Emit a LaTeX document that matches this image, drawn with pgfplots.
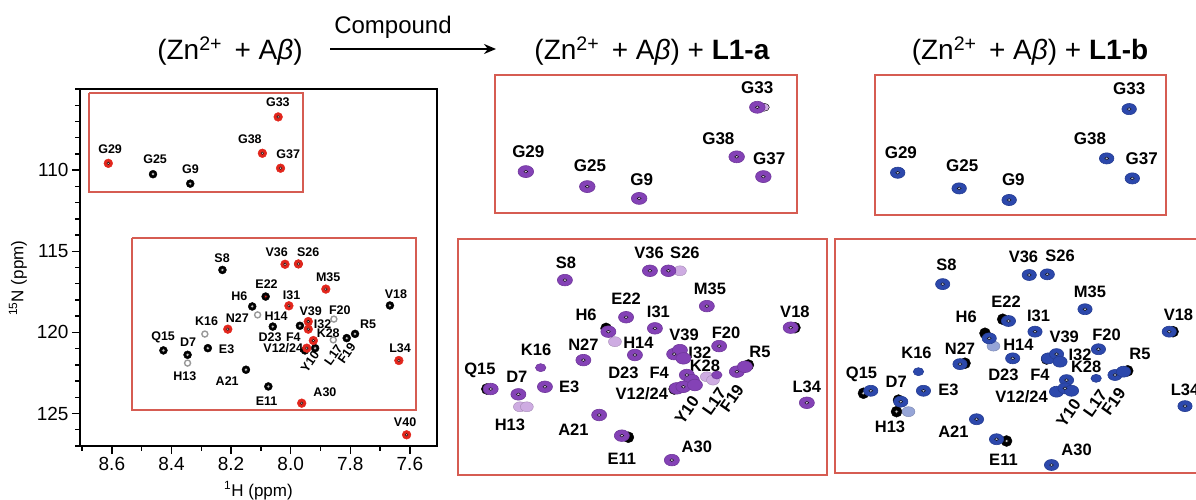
\documentclass[border=0pt]{standalone}
\usepackage{fontspec}
\setmainfont{Liberation Sans}
\usepackage{pgfplots}
\pgfplotsset{compat=1.18}
\usetikzlibrary{arrows.meta}
\definecolor{boxred}{RGB}{214,92,82}
\definecolor{pkred}{RGB}{226,38,28}
\definecolor{pur}{RGB}{132,66,182}
\definecolor{lpur}{RGB}{206,172,226}
\definecolor{blu}{RGB}{44,72,172}
\definecolor{lblu}{RGB}{150,165,215}
\newcommand{\lab}[3]{\node[font=\labfont] at (axis cs:#1,#2) {#3};}
\newcommand{\rlab}[3]{\node[font=\labfont,rotate=55] at (axis cs:#1,#2) {#3};}
\pgfplotsset{
  blk/.style={only marks, mark=*, mark size=#1, mark options={draw=black, fill=black}},
  blk/.default=4,
  ctr/.style={only marks, mark=*, mark size=#1, mark options={draw=none, fill=gray!45}},
  ctr/.default=1.8,
  redpk/.style={only marks, mark=*, mark size=4.4, mark options={draw=pkred, fill=pkred}},
  wdot/.style={only marks, mark=*, mark size=1.3, mark options={draw=none, fill=white!75!pkred}},
  gry/.style={only marks, mark=*, mark size=3, mark options={draw=gray!80, fill=white, line width=1.4pt}},
  ell/.style 2 args={only marks, mark=*, mark size=#2, mark options={draw=#1!85!black, fill=#1, xscale=1.3, line width=0.6pt}},
  edot/.style={only marks, mark=*, mark size=1.4, mark options={draw=none, fill=white!65!#1, xscale=1.4}},
  panel/.style={anchor=south west, scale only axis, x dir=reverse, y dir=reverse,
    xtick=\empty, ytick=\empty, clip=false,
    axis line style={draw=boxred, line width=1.6pt}},
}
\begin{document}
\begin{tikzpicture}[x=1pt,y=1pt]
\useasboundingbox (0pt,0pt) rectangle (1196pt,499pt);

% ---------------- left spectrum ----------------
\def\labfont{\fontsize{12.5}{13}\selectfont\bfseries}
\begin{axis}[
  at={(80pt,53pt)}, anchor=south west, width=357pt, height=357pt, scale only axis,
  xmin=7.509, xmax=8.707, x dir=reverse,
  ymin=105, ymax=127, y dir=reverse,
  xtick={7.6,7.8,8.0,8.2,8.4,8.6},
  minor xtick={7.5,7.7,7.9,8.1,8.3,8.5,8.7},
  ytick={110,115,120,125},
  minor ytick={105,106,107,108,109,111,112,113,114,116,117,118,119,121,122,123,124,126,127},
  tick pos=left, tick align=outside,
  major tick length=8pt, minor tick length=4.5pt,
  every tick/.style={black, line width=1.4pt},
  axis line style={line width=2pt},
  /pgf/number format/assume math mode=true,
  x tick label style={/pgf/number format/.cd, fixed, fixed zerofill, precision=1},
  tick label style={font=\fontsize{19}{19}\selectfont},
  xlabel={\textsuperscript{1}H (ppm)},
  ylabel={\textsuperscript{15}N (ppm)},
  label style={font=\fontsize{17}{17}\selectfont},
  xlabel style={at={(axis description cs:0.5,-0.125)}, anchor=center},
  ylabel style={at={(axis description cs:-0.174,0.47)}, anchor=center},
  clip=false,
]
% red boxes
\addplot[boxred, line width=1.5pt] coordinates {(8.677,105.25) (7.959,105.25) (7.959,111.34) (8.677,111.34) (8.677,105.25)};
\addplot[boxred, line width=1.5pt] coordinates {(8.532,114.17) (7.579,114.17) (7.579,124.77) (8.532,124.77) (8.532,114.17)};
% reference (black) peaks
\addplot[blk] table {
8.462 110.25
8.337 110.83
8.229 116.15
7.974 115.78
8.084 117.79
8.129 118.40
7.667 118.34
8.060 119.64
7.969 119.59
7.812 120.35
7.784 120.09
8.075 123.33
8.150 122.30
8.427 121.11
8.346 121.38
8.278 120.97
7.952 121.11
7.918 120.97
};
\addplot[ctr] table {
8.462 110.25
8.337 110.83
8.229 116.15
8.084 117.79
8.129 118.40
7.667 118.34
8.060 119.64
7.969 119.59
7.812 120.35
7.784 120.09
8.075 123.33
8.150 122.30
8.427 121.11
8.346 121.38
8.278 120.97
7.952 121.11
7.918 120.97
};
\addplot[gry] table {
8.111 118.92
7.855 119.18
7.857 120.46
8.346 121.89
8.288 120.10
};
% shifted (red) peaks
\addplot[redpk] table {
8.042 106.72
8.095 108.96
8.034 109.88
8.612 109.58
8.019 115.80
7.974 115.78
7.882 117.33
8.006 118.36
8.211 119.80
7.941 119.33
7.941 119.80
7.924 120.50
7.946 120.97
7.637 121.73
7.963 124.36
7.611 126.31
};
\addplot[wdot] table {
8.042 106.72
8.095 108.96
8.034 109.88
8.612 109.58
8.019 115.80
7.974 115.78
7.882 117.33
8.006 118.36
8.211 119.80
7.941 119.33
7.941 119.80
7.924 120.50
7.946 120.97
7.637 121.73
7.963 124.36
7.611 126.31
};
\addplot[only marks, mark=*, mark size=1.6, mark options={draw=none, fill=pkred}] coordinates {(8.084,117.79)};
\lab{8.043}{105.84}{G33}
\lab{8.137}{108.10}{G38}
\lab{8.008}{109.02}{G37}
\lab{8.606}{108.71}{G29}
\lab{8.455}{109.33}{G25}
\lab{8.336}{109.94}{G9}
\lab{8.230}{115.43}{S8}
\lab{8.047}{115.08}{V36}
\lab{7.941}{115.04}{S26}
\lab{7.874}{116.62}{M35}
\lab{8.081}{117.03}{E22}
\lab{8.172}{117.79}{H6}
\lab{7.997}{117.68}{I31}
\lab{7.647}{117.62}{V18}
\lab{8.049}{118.98}{H14}
\lab{7.933}{118.67}{V39}
\lab{7.835}{118.61}{F20}
\lab{7.893}{119.47}{I32}
\lab{7.874}{120.04}{K28}
\lab{7.740}{119.49}{R5}
\lab{8.179}{119.12}{N27}
\lab{8.282}{119.33}{K16}
\lab{8.428}{120.31}{Q15}
\lab{8.344}{120.62}{D7}
\lab{8.069}{120.29}{D23}
\lab{7.991}{120.29}{F4}
\lab{8.215}{121.03}{E3}
\lab{8.025}{120.97}{V12/24}
\lab{7.633}{120.97}{L34}
\lab{8.355}{122.72}{H13}
\lab{8.213}{123.02}{A21}
\lab{7.885}{123.68}{A30}
\lab{8.081}{124.25}{E11}
\lab{7.616}{125.55}{V40}
\rlab{7.935}{121.79}{Y10}
\rlab{7.857}{121.38}{L17}
\rlab{7.812}{121.27}{F19}
\end{axis}

% ---------------- L1-a, glycine region ----------------
\def\labfont{\fontsize{17}{17}\selectfont\bfseries}
\begin{axis}[panel, at={(495pt,286pt)}, width=302pt, height=138pt,
  xmin=7.9552, xmax=8.68, ymin=105.25, ymax=111.322]
\addplot[only marks, mark=*, mark size=4, mark options={draw=none, fill=lpur, xscale=1.3}] coordinates {(8.034,106.67)};
\addplot[ell={pur}{6}] table {
8.0505 106.67
8.100 108.85
8.036 109.72
8.606 109.50
8.4585 110.16
8.334 110.68
};
\addplot[edot=pur] table {
8.0505 106.67
8.100 108.85
8.036 109.72
8.606 109.50
8.4585 110.16
8.334 110.68
};
\lab{8.0505}{105.79}{G33}
\lab{8.144}{108.04}{G38}
\lab{8.022}{108.92}{G37}
\lab{8.600}{108.62}{G29}
\lab{8.452}{109.25}{G25}
\lab{8.328}{109.84}{G9}
\end{axis}

% ---------------- L1-b, glycine region ----------------
\begin{axis}[panel, at={(875pt,284pt)}, width=291pt, height=140pt,
  xmin=7.9816, xmax=8.68, ymin=105.25, ymax=111.41]
\addplot[ell={blu}{5.6}] table {
8.070 106.75
8.124 108.92
8.0625 109.80
8.6255 109.55
8.478 110.24
8.358 110.75
};
\addplot[edot=blu] table {
8.070 106.75
8.124 108.92
8.0625 109.80
8.6255 109.55
8.478 110.24
8.358 110.75
};
\lab{8.070}{105.84}{G33}
\lab{8.164}{108.04}{G38}
\lab{8.040}{108.95}{G37}
\lab{8.618}{108.65}{G29}
\lab{8.4705}{109.25}{G25}
\lab{8.348}{109.87}{G9}
\end{axis}

% ---------------- L1-a, main region ----------------
\def\labfont{\fontsize{16.5}{17}\selectfont\bfseries}
\begin{axis}[panel, at={(458pt,24pt)}, width=369pt, height=236pt,
  xmin=7.5706, xmax=8.53, ymin=114.2, ymax=124.82]
\addplot[blk=5.5] table {
8.145 118.22
7.654 118.19
8.455 120.95
7.775 119.87
8.087 123.12
7.968 120.95
};
\addplot[only marks, mark=*, mark size=5, mark options={draw=lpur!80!black, fill=lpur, xscale=1.3}] table {
7.953 115.63
8.122 118.82
8.369 121.75
8.351 121.75
7.883 120.40
7.867 120.55
};
\addplot[ell={pur}{5.8}] table {
8.252 116.05
8.031 115.63
7.983 115.63
7.883 117.22
8.093 117.72
8.018 118.22
8.139 118.37
7.665 118.19
7.851 119.02
8.070 119.42
7.968 119.38
7.953 119.20
7.944 119.57
8.204 119.65
8.445 120.95
8.304 120.85
8.373 121.19
7.805 120.17
7.784 119.95
7.935 120.32
7.922 120.55
7.961 120.92
7.944 120.85
7.914 120.77
7.623 121.57
8.163 122.12
8.104 123.05
7.974 124.15
};
\addplot[ell={pur}{4}] table {
8.315 119.99
7.857 120.32
};
\addplot[edot=pur] table {
8.252 116.05
8.031 115.63
7.983 115.63
7.883 117.22
8.093 117.72
8.018 118.22
8.139 118.37
7.665 118.19
7.851 119.02
8.070 119.42
7.968 119.38
8.204 119.65
8.445 120.95
8.304 120.85
8.373 121.19
7.805 120.17
7.935 120.32
7.944 120.85
7.623 121.57
8.163 122.12
8.104 123.05
7.974 124.15
};
\lab{8.249}{115.29}{S8}
\lab{8.033}{114.84}{V36}
\lab{7.940}{114.84}{S26}
\lab{7.875}{116.46}{M35}
\lab{8.093}{116.90}{E22}
\lab{8.009}{117.47}{I31}
\lab{8.197}{117.62}{H6}
\lab{7.654}{117.47}{V18}
\lab{7.833}{118.42}{F20}
\lab{7.942}{118.52}{V39}
\lab{8.061}{118.87}{H14}
\lab{8.204}{118.97}{N27}
\lab{7.901}{119.34}{I32}
\lab{7.745}{119.27}{R5}
\lab{8.327}{119.20}{K16}
\lab{7.888}{119.92}{K28}
\lab{8.473}{120.10}{Q15}
\lab{8.377}{120.40}{D7}
\lab{8.100}{120.24}{D23}
\lab{8.007}{120.24}{F4}
\lab{8.241}{120.87}{E3}
\lab{8.052}{121.18}{V12/24}
\lab{7.623}{120.85}{L34}
\lab{8.395}{122.57}{H13}
\lab{8.230}{122.80}{A21}
\lab{7.909}{123.57}{A30}
\lab{8.104}{124.07}{E11}
\rlab{7.935}{121.90}{Y10}
\rlab{7.864}{121.52}{L17}
\rlab{7.818}{121.37}{F19}
\end{axis}

% ---------------- L1-b, main region ----------------
\begin{axis}[panel, at={(835pt,26pt)}, width=369pt, height=234pt,
  xmin=7.5706, xmax=8.53, ymin=114.2, ymax=124.73]
\addplot[blk=5.5] table {
8.094 117.81
8.140 118.44
7.651 118.37
8.192 119.79
8.456 121.14
8.365 121.45
8.370 121.97
7.769 120.13
8.084 123.29
7.980 119.60
};
\addplot[only marks, mark=*, mark size=1.8, mark options={draw=none, fill=gray!40}] coordinates {(8.370,121.97) (8.456,121.14) (8.084,123.29)};
\addplot[only marks, mark=*, mark size=5, mark options={draw=lblu!80!black, fill=lblu, xscale=1.3}] table {
8.118 119.02
8.339 121.97
};
\addplot[ell={blu}{5.5}] table {
8.250 116.23
8.025 115.82
7.978 115.79
7.880 117.36
8.079 117.89
8.010 118.37
8.129 118.67
7.661 118.37
7.845 119.16
8.068 119.57
7.975 119.57
7.954 119.38
7.945 119.72
8.205 119.83
8.437 121.03
8.300 121.03
8.359 121.52
7.802 120.32
7.780 120.17
7.928 120.55
7.954 121.07
7.932 120.92
7.915 121.03
7.620 121.72
8.162 122.31
8.110 123.21
7.967 124.37
};
\addplot[ell={blu}{4}] table {
8.313 120.17
7.851 120.47
};
\addplot[edot=blu] table {
8.250 116.23
8.025 115.82
7.978 115.79
7.880 117.36
8.079 117.89
8.010 118.37
8.129 118.67
7.661 118.37
7.845 119.16
8.068 119.57
7.954 119.38
8.205 119.83
8.437 121.03
8.300 121.03
8.359 121.52
7.802 120.32
7.928 120.55
7.932 120.92
7.620 121.72
8.162 122.31
8.110 123.21
7.967 124.37
};
\lab{8.240}{115.37}{S8}
\lab{8.040}{115.00}{V36}
\lab{7.945}{114.97}{S26}
\lab{7.867}{116.57}{M35}
\lab{8.085}{117.02}{E22}
\lab{8.001}{117.67}{I31}
\lab{8.189}{117.72}{H6}
\lab{7.637}{117.62}{V18}
\lab{7.824}{118.52}{F20}
\lab{7.934}{118.60}{V39}
\lab{8.053}{118.97}{H14}
\lab{8.205}{119.12}{N27}
\lab{7.893}{119.42}{I32}
\lab{7.737}{119.38}{R5}
\lab{8.318}{119.34}{K16}
\lab{7.877}{119.97}{K28}
\lab{8.461}{120.28}{Q15}
\lab{8.371}{120.62}{D7}
\lab{8.092}{120.32}{D23}
\lab{7.997}{120.32}{F4}
\lab{8.235}{121.00}{E3}
\lab{8.045}{121.30}{V12/24}
\lab{7.620}{121.00}{L34}
\lab{8.387}{122.65}{H13}
\lab{8.222}{122.87}{A21}
\lab{7.902}{123.70}{A30}
\lab{8.092}{124.15}{E11}
\rlab{7.923}{122.04}{Y10}
\rlab{7.854}{121.59}{L17}
\rlab{7.806}{121.52}{F19}
\end{axis}

% ---------------- titles ----------------
\node[font=\fontsize{28}{28}\selectfont, anchor=base] at (230pt,439pt) {(Zn\textsuperscript{2+}\, + A{\itshape β})};
\node[font=\fontsize{24}{24}\selectfont, anchor=base] at (393pt,465pt) {Compound};
\draw[line width=2pt, -{Stealth[length=12pt,width=10pt]}] (330pt,450pt) -- (496pt,450pt);
\node[font=\fontsize{28}{28}\selectfont, anchor=base] at (652pt,439pt) {(Zn\textsuperscript{2+}\, + A{\itshape β}) + \textbf{L1-a}};
\node[font=\fontsize{28}{28}\selectfont, anchor=base] at (1030pt,439pt) {(Zn\textsuperscript{2+}\, + A{\itshape β}) + \textbf{L1-b}};
\end{tikzpicture}
\end{document}
